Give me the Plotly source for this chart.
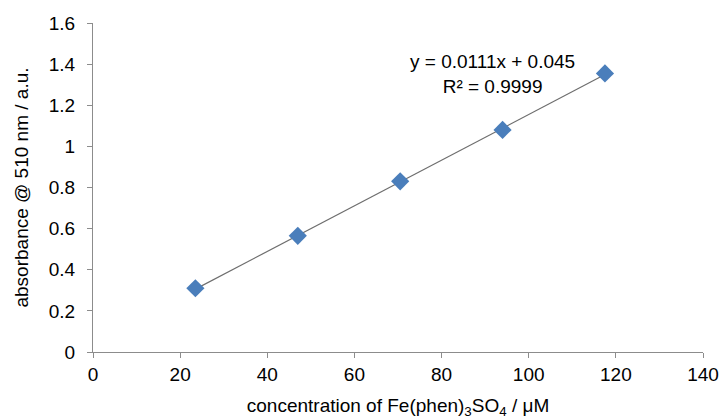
import plotly.graph_objects as go
import numpy as np

conc = [23.5, 47.0, 70.5, 94.0, 117.5]
absorb = [0.31, 0.565, 0.83, 1.08, 1.355]
slope = 0.0111
intercept = 0.045
eq_text = "y = 0.0111x + 0.045<br>R² = 0.9999"

x_ticks = [0, 20, 40, 60, 80, 100, 120, 140]
y_ticks = [0, 0.2, 0.4, 0.6, 0.8, 1, 1.2, 1.4, 1.6]

FONT = "Liberation Sans, Arial"

fit_x = np.array([conc[0], conc[-1]])
fit_y = slope * fit_x + intercept

fig = go.Figure()
fig.add_trace(go.Scatter(x=fit_x, y=fit_y, mode="lines",
                         line=dict(color="#6e6e6e", width=1.2), showlegend=False))
fig.add_trace(go.Scatter(x=conc, y=absorb, mode="markers",
                         marker=dict(symbol="diamond", size=14, color="#4a7ebb",
                                     line=dict(width=0)), showlegend=False))

fig.add_annotation(x=91.8, y=1.35, xref="x", yref="y", text=eq_text, showarrow=False,
                   font=dict(family=FONT, size=19, color="#000000"),
                   align="center")

axis_common = dict(showgrid=False, zeroline=False, showline=True, linecolor="#8c8c8c",
                   linewidth=1, ticks="outside", ticklen=5, tickcolor="#8c8c8c",
                   automargin=False,
                   tickfont=dict(family=FONT, size=19, color="#000000"))

fig.update_xaxes(range=[0, 140], tickvals=x_ticks, ticktext=[str(v) for v in x_ticks],
                 title=dict(text="concentration of Fe(phen)<sub>3</sub>SO<sub>4</sub> / μM",
                            font=dict(family=FONT, size=19, color="#000000"),
                            standoff=14),
                 **axis_common)
fig.update_yaxes(range=[0, 1.6], tickvals=y_ticks, ticktext=[f"{v:g}" for v in y_ticks],
                 ticklabelstandoff=8,
                 title=dict(text="absorbance @ 510 nm / a.u.",
                            font=dict(family=FONT, size=19, color="#000000"),
                            standoff=15),
                 **axis_common)

fig.update_layout(width=723, height=420, margin=dict(l=93, r=20, t=23, b=68),
                  plot_bgcolor="white", paper_bgcolor="white")

fig.write_html("out.html")
